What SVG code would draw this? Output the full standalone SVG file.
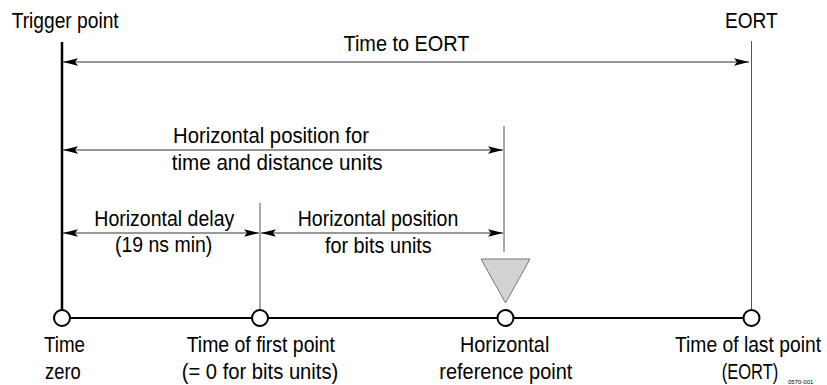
<svg xmlns="http://www.w3.org/2000/svg" width="827" height="385" viewBox="0 0 827 385">
<defs>
<style>
text{font-family:"Liberation Sans",Arial,sans-serif;font-size:22px;fill:#000}
.thin{stroke:#555;stroke-width:1;fill:none}
.dim{stroke:#333;stroke-width:1.2;fill:none;marker-start:url(#aL);marker-end:url(#aR)}
.pt{fill:#fff;stroke:#000;stroke-width:2}
</style>
<marker id="aR" markerUnits="userSpaceOnUse" markerWidth="16" markerHeight="10" refX="15" refY="5" orient="auto">
<path d="M0,1.3 L15,5 L0,8.7 L3,5 Z" fill="#000"/>
</marker>
<marker id="aL" markerUnits="userSpaceOnUse" markerWidth="16" markerHeight="10" refX="0" refY="5" orient="auto">
<path d="M15,1.3 L0,5 L15,8.7 L12,5 Z" fill="#000"/>
</marker>
</defs>
<rect width="827" height="385" fill="#fff"/>
<g id="connectors">
<line x1="62" y1="42" x2="62" y2="318" stroke="#000" stroke-width="2.5"/>
<line x1="62" y1="318" x2="752" y2="318" stroke="#000" stroke-width="2"/>
<line class="thin" x1="751.5" y1="41" x2="751.5" y2="318"/>
<line class="thin" x1="260" y1="203" x2="260" y2="318"/>
<line class="thin" x1="504" y1="126" x2="504" y2="252"/>
<line class="dim" x1="63" y1="62" x2="749" y2="62"/>
<line class="dim" x1="63" y1="150" x2="503" y2="150"/>
<line class="dim" x1="63" y1="233" x2="259" y2="233"/>
<line class="dim" x1="261" y1="233" x2="503" y2="233"/>
</g>
<g id="labels-top">
<text x="11.7" y="28" textLength="107" lengthAdjust="spacingAndGlyphs">Trigger point</text>
<text x="725" y="28" textLength="52.7" lengthAdjust="spacingAndGlyphs">EORT</text>
<text x="406.5" y="51" text-anchor="middle" textLength="126" lengthAdjust="spacingAndGlyphs">Time to EORT</text>
<text x="173" y="143" textLength="196" lengthAdjust="spacingAndGlyphs">Horizontal position for</text>
<text x="171.7" y="169.5" textLength="211" lengthAdjust="spacingAndGlyphs">time and distance units</text>
<text x="94.3" y="225.5" textLength="140" lengthAdjust="spacingAndGlyphs">Horizontal delay</text>
<text x="115" y="252" textLength="97.3" lengthAdjust="spacingAndGlyphs">(19 ns min)</text>
<text x="297.7" y="225.5" textLength="160.6" lengthAdjust="spacingAndGlyphs">Horizontal position</text>
<text x="325" y="253" textLength="106.7" lengthAdjust="spacingAndGlyphs">for bits units</text>
</g>
<g id="ref-marker">
<polygon points="481,259 530,259 505.5,303" fill="#d3d3d3" stroke="#777" stroke-width="1"/>
</g>
<g id="time-zero">
<circle class="pt" cx="62" cy="318" r="8"/>
<text x="44" y="351.5" textLength="41" lengthAdjust="spacingAndGlyphs">Time</text>
<text x="45" y="379" textLength="35.7" lengthAdjust="spacingAndGlyphs">zero</text>
</g>
<g id="first-point">
<circle class="pt" cx="260" cy="318" r="8"/>
<text x="186.7" y="351.5" textLength="148.3" lengthAdjust="spacingAndGlyphs">Time of first point</text>
<text x="181.7" y="379" textLength="156.6" lengthAdjust="spacingAndGlyphs">(= 0 for bits units)</text>
</g>
<g id="ref-point">
<circle class="pt" cx="505.5" cy="318" r="8"/>
<text x="460" y="351.5" textLength="89.3" lengthAdjust="spacingAndGlyphs">Horizontal</text>
<text x="439.3" y="379" textLength="133" lengthAdjust="spacingAndGlyphs">reference point</text>
</g>
<g id="last-point">
<circle class="pt" cx="751.5" cy="318" r="8"/>
<text x="675" y="351.5" textLength="146" lengthAdjust="spacingAndGlyphs">Time of last point</text>
<text x="721.7" y="379" textLength="56.6" lengthAdjust="spacingAndGlyphs">(EORT)</text>
</g>
<text x="788" y="384" style="font-size:6px" fill="#444">0570-001</text>
</svg>
